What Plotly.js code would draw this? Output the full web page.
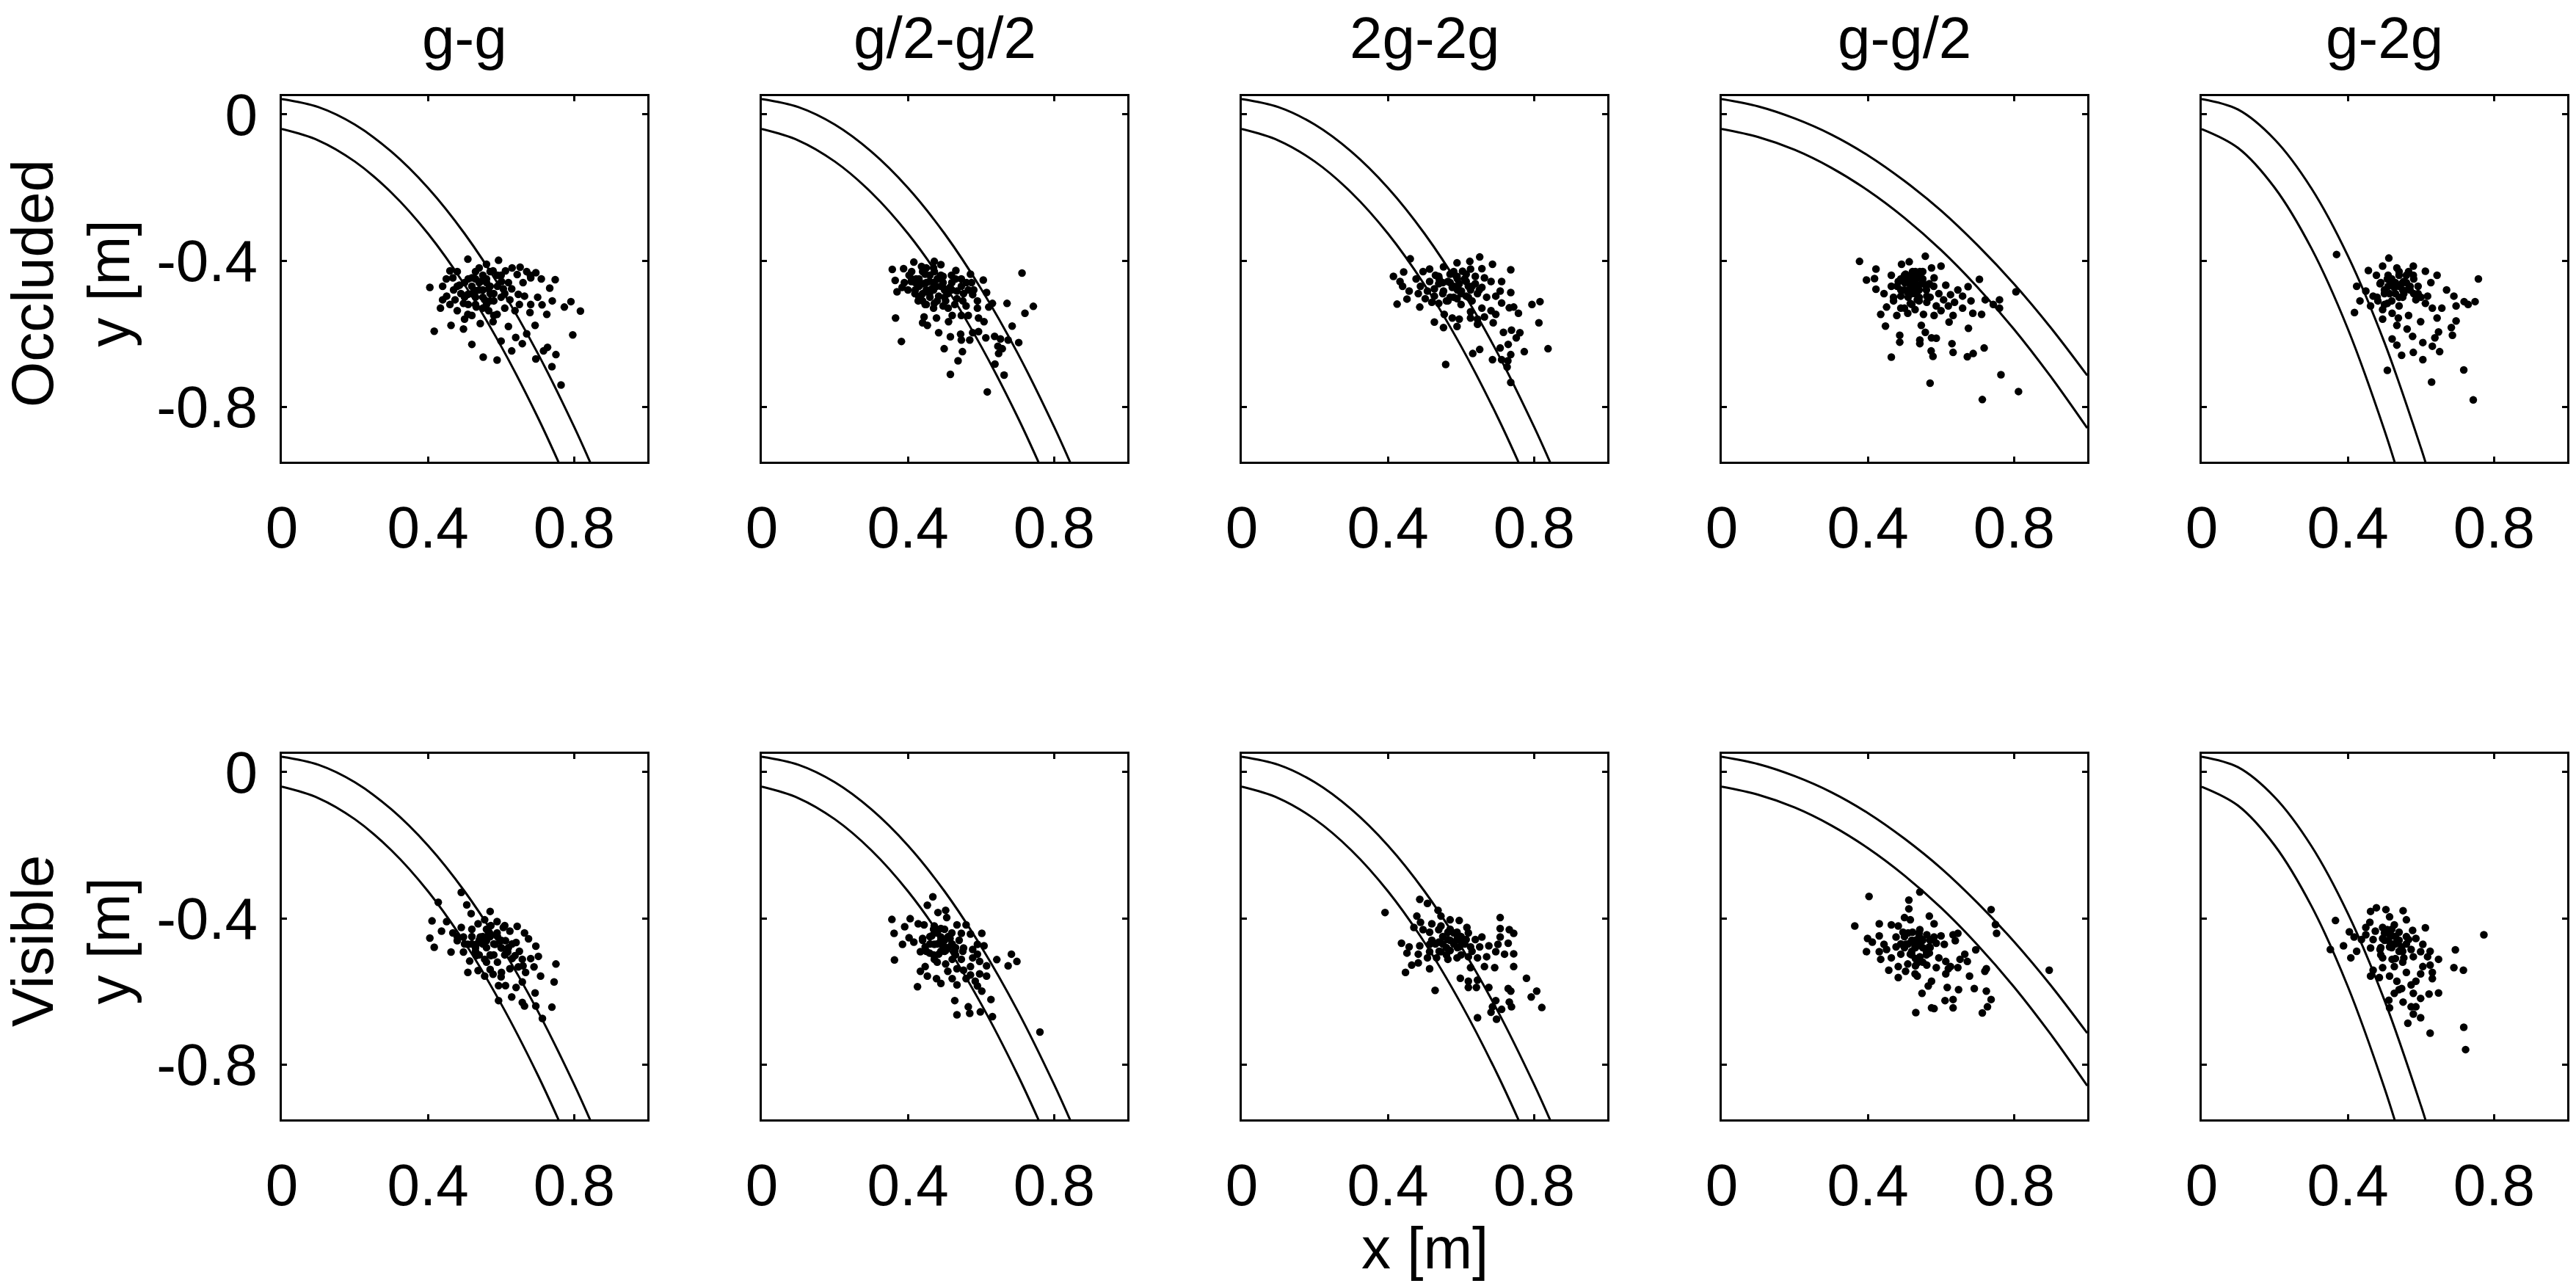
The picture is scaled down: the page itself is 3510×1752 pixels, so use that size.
<!DOCTYPE html>
<html>
<head>
<meta charset="utf-8">
<script src="https://cdn.plot.ly/plotly-3.0.1.min.js"></script>
<style>
html,body{margin:0;padding:0;background:#fff;}
#chart{width:3510px;height:1752px;}
</style>
</head>
<body>
<div id="chart"></div>
<script>
// ---------- labels ----------
const conditions = ["g-g", "g/2-g/2", "2g-2g", "g-g/2", "g-2g"];
const rowLabels = ["Occluded<br>y [m]", "Visible<br>y [m]"];
const xTickVals = [0, 0.4, 0.8];
const xTickText = ["0", "0.4", "0.8"];
const yTickVals = [0, -0.4, -0.8];
const yTickText = ["0", "-0.4", "-0.8"];
const xLabel = "x [m]";

// ---------- boundary curves ----------
const stdUpperX = [0, 0.1, 0.2, 0.3, 0.4, 0.5, 0.6, 0.7, 0.8, 0.85];
const stdUpperY = [0.042, 0.020, -0.028, -0.102, -0.201, -0.326, -0.477, -0.653, -0.855, -0.966];
const stdLowerX = [0, 0.1, 0.2, 0.3, 0.4, 0.5, 0.6, 0.7, 0.77];
const stdLowerY = [-0.040, -0.071, -0.129, -0.214, -0.326, -0.466, -0.634, -0.828, -0.980];
const halfUpperX = [0, 0.1, 0.2, 0.3, 0.4, 0.5, 0.6, 0.7, 0.8, 0.9, 1.0];
const halfUpperY = [0.042, 0.022, -0.011, -0.055, -0.112, -0.182, -0.263, -0.358, -0.464, -0.583, -0.714];
const halfLowerX = [0, 0.1, 0.2, 0.3, 0.4, 0.5, 0.6, 0.7, 0.8, 0.9, 1.0];
const halfLowerY = [-0.040, -0.062, -0.097, -0.146, -0.208, -0.283, -0.371, -0.473, -0.588, -0.717, -0.858];
const dblUpperX = [0, 0.1, 0.2, 0.3, 0.4, 0.5, 0.6, 0.62];
const dblUpperY = [0.042, 0.013, -0.069, -0.202, -0.387, -0.624, -0.913, -0.977];
const dblLowerX = [0, 0.1, 0.2, 0.3, 0.4, 0.5, 0.54];
const dblLowerY = [-0.040, -0.092, -0.201, -0.366, -0.587, -0.864, -0.991];

// ---------- end points: Occluded row ----------
const occ_gg = [[0.509,-0.396],[0.560,-0.410],[0.593,-0.399],[0.460,-0.428],[0.405,-0.473],[0.434,-0.530],[0.417,-0.593],[0.463,-0.577],[0.497,-0.587],[0.520,-0.629],[0.551,-0.664],[0.589,-0.672],[0.629,-0.647],[0.658,-0.627],[0.695,-0.669],[0.716,-0.647],[0.727,-0.637],[0.750,-0.657],[0.739,-0.690],[0.764,-0.740],[0.796,-0.603],[0.817,-0.538],[0.791,-0.512],[0.773,-0.527],[0.733,-0.475],[0.748,-0.452],[0.712,-0.521],[0.681,-0.520],[0.693,-0.577],[0.725,-0.547],[0.679,-0.542],[0.647,-0.492],[0.670,-0.430],[0.695,-0.433],[0.644,-0.438],[0.612,-0.428],[0.606,-0.477],[0.624,-0.507],[0.638,-0.537],[0.589,-0.547],[0.578,-0.567],[0.543,-0.572],[0.532,-0.527],[0.497,-0.517],[0.474,-0.507],[0.451,-0.497],[0.440,-0.507],[0.468,-0.447],[0.486,-0.467],[0.520,-0.447],[0.543,-0.457],[0.566,-0.477],[0.532,-0.482],[0.509,-0.492],[0.555,-0.507],[0.578,-0.428],[0.601,-0.457],[0.664,-0.497],[0.629,-0.477],[0.509,-0.547],[0.480,-0.537],[0.566,-0.537],[0.681,-0.447],[0.652,-0.418],[0.52,-0.47],[0.54,-0.48],[0.56,-0.46],[0.53,-0.50],[0.57,-0.49],[0.55,-0.44],[0.50,-0.46],[0.58,-0.51],[0.49,-0.49],[0.51,-0.52],[0.59,-0.47],[0.56,-0.52],[0.47,-0.48],[0.54,-0.42],[0.60,-0.44],[0.62,-0.46],[0.61,-0.53],[0.65,-0.52],[0.63,-0.42],[0.45,-0.45],[0.48,-0.43],[0.53,-0.45],[0.57,-0.43],[0.55,-0.50],[0.52,-0.55],[0.58,-0.55],[0.60,-0.50],[0.66,-0.46],[0.68,-0.44],[0.71,-0.45],[0.74,-0.51],[0.70,-0.50],[0.62,-0.58],[0.67,-0.60],[0.64,-0.61],[0.60,-0.62],[0.44,-0.47],[0.50,-0.56],[0.46,-0.52],[0.51,-0.45],[0.53,-0.43],[0.55,-0.48],[0.57,-0.47],[0.52,-0.49],[0.54,-0.46],[0.56,-0.45],[0.58,-0.49],[0.50,-0.50],[0.55,-0.53],[0.59,-0.44],[0.53,-0.52],[0.48,-0.47],[0.61,-0.49],[0.57,-0.51]];
const occ_half = [[0.357,-0.424],[0.388,-0.422],[0.416,-0.404],[0.437,-0.416],[0.472,-0.402],[0.490,-0.411],[0.531,-0.427],[0.519,-0.440],[0.571,-0.437],[0.606,-0.453],[0.574,-0.460],[0.365,-0.454],[0.384,-0.473],[0.370,-0.485],[0.409,-0.457],[0.403,-0.440],[0.422,-0.450],[0.440,-0.463],[0.459,-0.457],[0.478,-0.470],[0.496,-0.460],[0.515,-0.473],[0.534,-0.483],[0.552,-0.490],[0.577,-0.493],[0.546,-0.470],[0.509,-0.490],[0.484,-0.497],[0.459,-0.490],[0.434,-0.497],[0.419,-0.490],[0.428,-0.510],[0.447,-0.520],[0.472,-0.517],[0.496,-0.524],[0.528,-0.520],[0.559,-0.524],[0.590,-0.530],[0.615,-0.487],[0.631,-0.517],[0.621,-0.527],[0.671,-0.517],[0.712,-0.434],[0.743,-0.525],[0.720,-0.544],[0.685,-0.579],[0.703,-0.624],[0.674,-0.617],[0.653,-0.614],[0.637,-0.607],[0.613,-0.611],[0.593,-0.594],[0.577,-0.597],[0.569,-0.617],[0.544,-0.601],[0.546,-0.617],[0.516,-0.608],[0.499,-0.641],[0.549,-0.649],[0.537,-0.674],[0.516,-0.711],[0.617,-0.759],[0.638,-0.683],[0.663,-0.713],[0.648,-0.654],[0.646,-0.634],[0.658,-0.641],[0.484,-0.597],[0.453,-0.577],[0.440,-0.570],[0.444,-0.554],[0.478,-0.557],[0.511,-0.567],[0.521,-0.550],[0.546,-0.550],[0.565,-0.550],[0.593,-0.557],[0.608,-0.567],[0.366,-0.557],[0.382,-0.621],[0.590,-0.510],[0.534,-0.504],[0.503,-0.510],[0.465,-0.477],[0.447,-0.437],[0.472,-0.430],[0.496,-0.443],[0.546,-0.450],[0.565,-0.480],[0.45,-0.46],[0.47,-0.48],[0.43,-0.47],[0.46,-0.44],[0.49,-0.47],[0.44,-0.49],[0.48,-0.51],[0.42,-0.46],[0.50,-0.50],[0.45,-0.52],[0.52,-0.46],[0.41,-0.43],[0.47,-0.42],[0.53,-0.45],[0.51,-0.53],[0.44,-0.51],[0.40,-0.48],[0.55,-0.51],[0.56,-0.46],[0.58,-0.48],[0.43,-0.45],[0.45,-0.48],[0.47,-0.46],[0.42,-0.48],[0.44,-0.43],[0.48,-0.45],[0.46,-0.50],[0.41,-0.45],[0.49,-0.44],[0.43,-0.50],[0.50,-0.48],[0.45,-0.42],[0.39,-0.46],[0.47,-0.53],[0.52,-0.48]];
const occ_double = [[0.461,-0.395],[0.443,-0.431],[0.415,-0.443],[0.433,-0.457],[0.440,-0.470],[0.425,-0.519],[0.452,-0.505],[0.458,-0.483],[0.477,-0.450],[0.496,-0.430],[0.514,-0.423],[0.552,-0.417],[0.589,-0.406],[0.624,-0.402],[0.651,-0.390],[0.686,-0.410],[0.736,-0.425],[0.657,-0.422],[0.626,-0.423],[0.604,-0.429],[0.570,-0.437],[0.539,-0.443],[0.514,-0.457],[0.489,-0.470],[0.483,-0.490],[0.502,-0.504],[0.527,-0.497],[0.552,-0.483],[0.576,-0.473],[0.595,-0.463],[0.614,-0.457],[0.639,-0.463],[0.657,-0.473],[0.682,-0.457],[0.711,-0.457],[0.707,-0.483],[0.736,-0.487],[0.695,-0.497],[0.670,-0.500],[0.645,-0.490],[0.614,-0.497],[0.589,-0.504],[0.564,-0.510],[0.539,-0.517],[0.520,-0.514],[0.487,-0.527],[0.554,-0.547],[0.576,-0.557],[0.595,-0.560],[0.626,-0.540],[0.657,-0.530],[0.682,-0.537],[0.711,-0.516],[0.732,-0.529],[0.744,-0.527],[0.757,-0.544],[0.695,-0.547],[0.664,-0.554],[0.645,-0.560],[0.626,-0.557],[0.688,-0.570],[0.645,-0.574],[0.589,-0.580],[0.552,-0.583],[0.527,-0.568],[0.794,-0.520],[0.816,-0.512],[0.813,-0.570],[0.761,-0.597],[0.738,-0.590],[0.716,-0.596],[0.751,-0.611],[0.729,-0.629],[0.707,-0.639],[0.736,-0.657],[0.773,-0.649],[0.838,-0.641],[0.651,-0.643],[0.632,-0.654],[0.686,-0.671],[0.711,-0.671],[0.728,-0.674],[0.726,-0.691],[0.736,-0.733],[0.558,-0.684],[0.589,-0.443],[0.614,-0.437],[0.639,-0.443],[0.539,-0.463],[0.564,-0.457],[0.527,-0.477],[0.508,-0.483],[0.601,-0.483],[0.626,-0.480],[0.664,-0.447],[0.58,-0.47],[0.60,-0.49],[0.55,-0.46],[0.62,-0.47],[0.57,-0.50],[0.53,-0.44],[0.63,-0.51],[0.59,-0.45],[0.57,-0.46],[0.59,-0.48],[0.61,-0.45],[0.55,-0.49],[0.63,-0.47],[0.58,-0.43],[0.60,-0.52],[0.54,-0.45],[0.62,-0.50],[0.56,-0.51],[0.65,-0.48],[0.58,-0.50]];
const occ_g_half = [[0.377,-0.402],[0.422,-0.423],[0.396,-0.453],[0.418,-0.449],[0.464,-0.440],[0.492,-0.410],[0.513,-0.403],[0.557,-0.388],[0.574,-0.420],[0.600,-0.415],[0.581,-0.447],[0.613,-0.467],[0.646,-0.480],[0.659,-0.497],[0.674,-0.471],[0.705,-0.451],[0.682,-0.510],[0.721,-0.507],[0.760,-0.507],[0.743,-0.520],[0.760,-0.530],[0.805,-0.485],[0.422,-0.478],[0.444,-0.490],[0.464,-0.470],[0.483,-0.457],[0.503,-0.437],[0.522,-0.430],[0.535,-0.447],[0.548,-0.463],[0.529,-0.477],[0.509,-0.487],[0.490,-0.497],[0.470,-0.510],[0.451,-0.527],[0.435,-0.547],[0.479,-0.550],[0.509,-0.544],[0.529,-0.534],[0.552,-0.547],[0.581,-0.550],[0.600,-0.537],[0.620,-0.524],[0.637,-0.514],[0.587,-0.524],[0.561,-0.514],[0.535,-0.507],[0.516,-0.517],[0.500,-0.530],[0.561,-0.497],[0.594,-0.490],[0.626,-0.493],[0.659,-0.530],[0.687,-0.544],[0.711,-0.547],[0.633,-0.550],[0.622,-0.568],[0.675,-0.585],[0.546,-0.577],[0.557,-0.596],[0.574,-0.611],[0.587,-0.612],[0.487,-0.604],[0.487,-0.623],[0.542,-0.617],[0.542,-0.627],[0.448,-0.579],[0.464,-0.664],[0.573,-0.647],[0.578,-0.662],[0.630,-0.627],[0.633,-0.651],[0.672,-0.663],[0.688,-0.654],[0.718,-0.639],[0.570,-0.735],[0.713,-0.780],[0.764,-0.712],[0.812,-0.758],[0.522,-0.457],[0.542,-0.430],[0.568,-0.463],[0.607,-0.507],[0.52,-0.45],[0.53,-0.47],[0.51,-0.46],[0.54,-0.44],[0.50,-0.48],[0.55,-0.46],[0.52,-0.49],[0.49,-0.45],[0.53,-0.43],[0.51,-0.50],[0.56,-0.48],[0.48,-0.47],[0.54,-0.51],[0.50,-0.44],[0.55,-0.43],[0.47,-0.50],[0.57,-0.50],[0.52,-0.52],[0.49,-0.53],[0.58,-0.47],[0.51,-0.45],[0.53,-0.46],[0.52,-0.47],[0.54,-0.48],[0.50,-0.46],[0.55,-0.45],[0.53,-0.49],[0.51,-0.48],[0.49,-0.48],[0.56,-0.47],[0.52,-0.44],[0.54,-0.50]];
const occ_g_double = [[0.369,-0.383],[0.512,-0.393],[0.495,-0.415],[0.456,-0.427],[0.478,-0.440],[0.424,-0.470],[0.433,-0.510],[0.418,-0.542],[0.449,-0.483],[0.469,-0.497],[0.488,-0.463],[0.508,-0.450],[0.534,-0.420],[0.579,-0.415],[0.612,-0.429],[0.644,-0.440],[0.627,-0.460],[0.579,-0.440],[0.553,-0.457],[0.527,-0.473],[0.566,-0.477],[0.592,-0.490],[0.618,-0.497],[0.670,-0.480],[0.690,-0.497],[0.718,-0.512],[0.748,-0.512],[0.757,-0.450],[0.729,-0.520],[0.696,-0.524],[0.657,-0.530],[0.631,-0.530],[0.612,-0.517],[0.586,-0.507],[0.540,-0.524],[0.508,-0.517],[0.482,-0.510],[0.462,-0.524],[0.495,-0.534],[0.521,-0.544],[0.538,-0.557],[0.566,-0.550],[0.599,-0.567],[0.644,-0.557],[0.696,-0.565],[0.683,-0.583],[0.648,-0.595],[0.686,-0.604],[0.638,-0.611],[0.605,-0.624],[0.577,-0.607],[0.562,-0.587],[0.534,-0.577],[0.521,-0.614],[0.534,-0.631],[0.547,-0.659],[0.579,-0.651],[0.605,-0.671],[0.631,-0.634],[0.651,-0.649],[0.495,-0.560],[0.508,-0.700],[0.629,-0.732],[0.717,-0.699],[0.743,-0.781],[0.553,-0.490],[0.514,-0.490],[0.592,-0.470],[0.540,-0.440],[0.566,-0.430],[0.52,-0.46],[0.54,-0.47],[0.50,-0.48],[0.53,-0.49],[0.56,-0.46],[0.51,-0.44],[0.55,-0.50],[0.49,-0.46],[0.57,-0.48],[0.52,-0.51],[0.48,-0.50],[0.58,-0.45],[0.54,-0.43],[0.50,-0.52],[0.60,-0.50],[0.53,-0.46],[0.55,-0.48],[0.51,-0.47],[0.57,-0.47],[0.54,-0.50],[0.52,-0.45],[0.56,-0.44],[0.50,-0.49],[0.58,-0.49],[0.55,-0.46]];

// ---------- end points: Visible row ----------
const vis_gg = [[0.491,-0.329],[0.428,-0.356],[0.506,-0.363],[0.518,-0.387],[0.570,-0.381],[0.411,-0.407],[0.451,-0.409],[0.437,-0.435],[0.405,-0.454],[0.417,-0.479],[0.463,-0.492],[0.468,-0.440],[0.480,-0.461],[0.497,-0.451],[0.509,-0.471],[0.520,-0.430],[0.537,-0.415],[0.555,-0.404],[0.572,-0.420],[0.589,-0.409],[0.606,-0.425],[0.624,-0.435],[0.644,-0.422],[0.664,-0.440],[0.675,-0.456],[0.695,-0.476],[0.702,-0.504],[0.681,-0.510],[0.658,-0.512],[0.638,-0.502],[0.618,-0.492],[0.601,-0.481],[0.583,-0.471],[0.560,-0.461],[0.543,-0.451],[0.532,-0.502],[0.514,-0.517],[0.509,-0.548],[0.537,-0.543],[0.555,-0.558],[0.578,-0.553],[0.601,-0.548],[0.624,-0.538],[0.647,-0.533],[0.667,-0.548],[0.690,-0.533],[0.708,-0.558],[0.750,-0.525],[0.745,-0.574],[0.658,-0.574],[0.641,-0.589],[0.612,-0.584],[0.593,-0.584],[0.629,-0.615],[0.658,-0.630],[0.664,-0.640],[0.693,-0.604],[0.695,-0.640],[0.593,-0.625],[0.739,-0.643],[0.713,-0.674],[0.572,-0.502],[0.555,-0.512],[0.497,-0.492],[0.612,-0.461],[0.641,-0.466],[0.589,-0.440],[0.566,-0.440],[0.532,-0.471],[0.491,-0.425],[0.55,-0.47],[0.57,-0.45],[0.53,-0.48],[0.58,-0.50],[0.60,-0.46],[0.56,-0.43],[0.52,-0.45],[0.62,-0.48],[0.59,-0.52],[0.54,-0.50],[0.50,-0.47],[0.61,-0.42],[0.57,-0.54],[0.63,-0.51],[0.65,-0.49],[0.48,-0.45],[0.60,-0.56],[0.66,-0.53],[0.54,-0.46],[0.56,-0.48],[0.58,-0.47],[0.55,-0.45],[0.57,-0.50],[0.59,-0.45],[0.53,-0.49],[0.61,-0.50],[0.52,-0.47],[0.60,-0.48],[0.56,-0.52],[0.63,-0.47]];
const vis_half = [[0.468,-0.341],[0.453,-0.364],[0.482,-0.384],[0.503,-0.378],[0.506,-0.398],[0.356,-0.403],[0.406,-0.401],[0.391,-0.423],[0.428,-0.415],[0.444,-0.418],[0.472,-0.421],[0.490,-0.428],[0.534,-0.418],[0.559,-0.418],[0.546,-0.441],[0.571,-0.443],[0.602,-0.441],[0.362,-0.441],[0.403,-0.453],[0.385,-0.471],[0.416,-0.465],[0.440,-0.455],[0.465,-0.448],[0.490,-0.451],[0.515,-0.455],[0.521,-0.471],[0.496,-0.478],[0.472,-0.471],[0.447,-0.478],[0.434,-0.491],[0.459,-0.495],[0.484,-0.498],[0.503,-0.488],[0.528,-0.488],[0.552,-0.481],[0.577,-0.485],[0.590,-0.471],[0.608,-0.475],[0.590,-0.498],[0.577,-0.508],[0.596,-0.518],[0.615,-0.530],[0.643,-0.513],[0.674,-0.530],[0.683,-0.498],[0.698,-0.518],[0.363,-0.514],[0.472,-0.512],[0.447,-0.532],[0.434,-0.545],[0.453,-0.558],[0.478,-0.565],[0.490,-0.578],[0.509,-0.545],[0.534,-0.538],[0.552,-0.542],[0.571,-0.555],[0.596,-0.552],[0.615,-0.558],[0.584,-0.572],[0.559,-0.565],[0.534,-0.582],[0.590,-0.585],[0.602,-0.599],[0.627,-0.622],[0.528,-0.625],[0.565,-0.642],[0.534,-0.664],[0.569,-0.660],[0.598,-0.656],[0.631,-0.669],[0.761,-0.711],[0.426,-0.587],[0.521,-0.512],[0.546,-0.512],[0.503,-0.525],[0.521,-0.565],[0.571,-0.532],[0.48,-0.44],[0.50,-0.46],[0.46,-0.47],[0.52,-0.44],[0.49,-0.49],[0.47,-0.43],[0.51,-0.48],[0.54,-0.46],[0.44,-0.46],[0.53,-0.50],[0.48,-0.47],[0.50,-0.49],[0.46,-0.45],[0.49,-0.46],[0.52,-0.47],[0.47,-0.50],[0.51,-0.45],[0.45,-0.49],[0.53,-0.48],[0.48,-0.52],[0.50,-0.43],[0.55,-0.49]];
const vis_double = [[0.392,-0.384],[0.487,-0.348],[0.508,-0.359],[0.537,-0.378],[0.545,-0.394],[0.479,-0.394],[0.489,-0.411],[0.520,-0.415],[0.545,-0.421],[0.570,-0.404],[0.595,-0.406],[0.616,-0.425],[0.589,-0.438],[0.564,-0.438],[0.539,-0.431],[0.514,-0.438],[0.496,-0.431],[0.471,-0.425],[0.707,-0.398],[0.707,-0.428],[0.732,-0.431],[0.744,-0.441],[0.707,-0.451],[0.657,-0.451],[0.639,-0.458],[0.614,-0.458],[0.589,-0.458],[0.564,-0.458],[0.539,-0.465],[0.514,-0.471],[0.487,-0.475],[0.437,-0.468],[0.458,-0.478],[0.452,-0.495],[0.483,-0.498],[0.514,-0.491],[0.545,-0.491],[0.570,-0.488],[0.595,-0.478],[0.626,-0.478],[0.651,-0.478],[0.676,-0.475],[0.701,-0.471],[0.729,-0.468],[0.719,-0.498],[0.744,-0.497],[0.695,-0.491],[0.670,-0.505],[0.645,-0.508],[0.620,-0.505],[0.589,-0.508],[0.564,-0.512],[0.533,-0.508],[0.508,-0.508],[0.483,-0.522],[0.465,-0.528],[0.448,-0.548],[0.514,-0.538],[0.626,-0.535],[0.664,-0.532],[0.692,-0.535],[0.744,-0.532],[0.598,-0.564],[0.620,-0.572],[0.645,-0.569],[0.620,-0.589],[0.642,-0.589],[0.676,-0.589],[0.729,-0.592],[0.736,-0.599],[0.779,-0.564],[0.807,-0.599],[0.792,-0.615],[0.821,-0.644],[0.695,-0.625],[0.732,-0.629],[0.738,-0.642],[0.686,-0.642],[0.682,-0.657],[0.711,-0.649],[0.645,-0.672],[0.697,-0.676],[0.529,-0.597],[0.58,-0.47],[0.60,-0.45],[0.56,-0.48],[0.62,-0.44],[0.55,-0.45],[0.60,-0.50],[0.53,-0.47],[0.57,-0.43],[0.55,-0.47],[0.57,-0.46],[0.59,-0.48],[0.56,-0.50],[0.58,-0.44],[0.61,-0.47],[0.54,-0.49],[0.60,-0.46],[0.52,-0.46],[0.63,-0.49]];
const vis_g_half = [[0.403,-0.340],[0.512,-0.350],[0.512,-0.374],[0.542,-0.328],[0.364,-0.421],[0.431,-0.415],[0.464,-0.418],[0.483,-0.421],[0.500,-0.398],[0.516,-0.404],[0.568,-0.394],[0.581,-0.415],[0.399,-0.455],[0.412,-0.465],[0.431,-0.448],[0.444,-0.471],[0.477,-0.451],[0.496,-0.438],[0.522,-0.438],[0.542,-0.431],[0.561,-0.445],[0.581,-0.451],[0.600,-0.448],[0.633,-0.445],[0.646,-0.441],[0.639,-0.461],[0.609,-0.471],[0.587,-0.468],[0.568,-0.478],[0.542,-0.471],[0.522,-0.465],[0.503,-0.471],[0.477,-0.478],[0.451,-0.485],[0.431,-0.491],[0.396,-0.491],[0.435,-0.512],[0.464,-0.508],[0.490,-0.498],[0.516,-0.498],[0.542,-0.505],[0.568,-0.495],[0.594,-0.508],[0.613,-0.518],[0.626,-0.532],[0.652,-0.512],[0.665,-0.498],[0.695,-0.486],[0.672,-0.518],[0.646,-0.535],[0.620,-0.538],[0.587,-0.535],[0.561,-0.528],[0.535,-0.522],[0.509,-0.525],[0.483,-0.532],[0.457,-0.542],[0.483,-0.562],[0.503,-0.545],[0.529,-0.552],[0.535,-0.558],[0.613,-0.552],[0.678,-0.558],[0.720,-0.545],[0.724,-0.538],[0.574,-0.572],[0.565,-0.585],[0.548,-0.605],[0.617,-0.589],[0.648,-0.595],[0.691,-0.592],[0.724,-0.599],[0.737,-0.622],[0.611,-0.625],[0.633,-0.622],[0.633,-0.645],[0.581,-0.647],[0.574,-0.645],[0.531,-0.658],[0.727,-0.642],[0.713,-0.659],[0.737,-0.376],[0.749,-0.417],[0.752,-0.441],[0.896,-0.542],[0.548,-0.458],[0.529,-0.478],[0.574,-0.458],[0.53,-0.46],[0.55,-0.48],[0.51,-0.47],[0.54,-0.44],[0.56,-0.50],[0.52,-0.49],[0.57,-0.46],[0.50,-0.45],[0.55,-0.52],[0.53,-0.51],[0.52,-0.46],[0.53,-0.48],[0.54,-0.47],[0.55,-0.46],[0.52,-0.50],[0.51,-0.44],[0.56,-0.49],[0.50,-0.48],[0.54,-0.45],[0.53,-0.53],[0.57,-0.48],[0.49,-0.47]];
const vis_g_double = [[0.366,-0.406],[0.352,-0.485],[0.388,-0.475],[0.408,-0.508],[0.424,-0.490],[0.404,-0.437],[0.417,-0.451],[0.437,-0.458],[0.449,-0.425],[0.460,-0.411],[0.462,-0.381],[0.478,-0.371],[0.504,-0.376],[0.551,-0.379],[0.514,-0.396],[0.560,-0.404],[0.527,-0.418],[0.495,-0.425],[0.475,-0.435],[0.449,-0.445],[0.469,-0.458],[0.495,-0.455],[0.521,-0.448],[0.540,-0.438],[0.577,-0.433],[0.612,-0.426],[0.586,-0.455],[0.605,-0.471],[0.625,-0.490],[0.599,-0.491],[0.573,-0.485],[0.547,-0.478],[0.514,-0.478],[0.488,-0.485],[0.462,-0.481],[0.495,-0.508],[0.521,-0.512],[0.553,-0.508],[0.579,-0.505],[0.618,-0.505],[0.648,-0.512],[0.625,-0.528],[0.631,-0.548],[0.631,-0.565],[0.599,-0.552],[0.586,-0.572],[0.560,-0.548],[0.534,-0.572],[0.514,-0.558],[0.486,-0.562],[0.462,-0.558],[0.469,-0.542],[0.495,-0.535],[0.527,-0.532],[0.605,-0.532],[0.690,-0.535],[0.716,-0.542],[0.694,-0.486],[0.772,-0.445],[0.573,-0.582],[0.540,-0.595],[0.527,-0.605],[0.579,-0.605],[0.599,-0.619],[0.622,-0.607],[0.648,-0.604],[0.512,-0.624],[0.514,-0.645],[0.551,-0.629],[0.573,-0.642],[0.586,-0.642],[0.579,-0.662],[0.599,-0.672],[0.564,-0.687],[0.625,-0.714],[0.717,-0.698],[0.722,-0.759],[0.547,-0.592],[0.508,-0.431],[0.534,-0.465],[0.566,-0.458],[0.50,-0.46],[0.52,-0.47],[0.54,-0.49],[0.51,-0.44],[0.56,-0.47],[0.53,-0.45],[0.49,-0.50],[0.55,-0.52],[0.51,-0.46],[0.52,-0.48],[0.53,-0.47],[0.50,-0.44],[0.54,-0.46],[0.55,-0.49],[0.52,-0.43],[0.49,-0.48],[0.56,-0.45],[0.53,-0.51]];

// ---------- assemble ----------
const pointSets = [
  [occ_gg, occ_half, occ_double, occ_g_half, occ_g_double],
  [vis_gg, vis_half, vis_double, vis_g_half, vis_g_double]
];
const curveSets = [
  [[stdUpperX, stdUpperY], [stdLowerX, stdLowerY]],
  [[stdUpperX, stdUpperY], [stdLowerX, stdLowerY]],
  [[stdUpperX, stdUpperY], [stdLowerX, stdLowerY]],
  [[halfUpperX, halfUpperY], [halfLowerX, halfLowerY]],
  [[dblUpperX, dblUpperY], [dblLowerX, dblLowerY]]
];

const W = 3510, H = 1752;
const colLeft = [384, 1038, 1692, 2346, 3000];
const boxW = 498;
const rowTop = [131, 1027];
const FONT = "Liberation Sans, Arial, sans-serif";

const traces = [];
const layout = {
  width: W, height: H,
  margin: {l: 0, r: 0, t: 0, b: 0},
  paper_bgcolor: "#fff", plot_bgcolor: "#fff",
  showlegend: false,
  font: {family: FONT, size: 80, color: "#000"},
  annotations: []
};

for (let r = 0; r < 2; r++) {
  for (let c = 0; c < 5; c++) {
    const i = r * 5 + c + 1;
    const xa = "x" + (i === 1 ? "" : i);
    const ya = "y" + (i === 1 ? "" : i);
    const curves = curveSets[c];
    curves.forEach(cv => {
      traces.push({
        type: "scatter", mode: "lines", x: cv[0], y: cv[1],
        xaxis: xa, yaxis: ya,
        line: {color: "#000", width: 3, shape: "spline", smoothing: 1},
        hoverinfo: "skip"
      });
    });
    const pts = pointSets[r][c];
    traces.push({
      type: "scatter", mode: "markers",
      x: pts.map(p => p[0]), y: pts.map(p => p[1]),
      xaxis: xa, yaxis: ya,
      marker: {color: "#000", size: 10.5, line: {width: 0}},
      cliponaxis: true,
      hoverinfo: "skip"
    });
    const axCommon = {
      showline: true, linewidth: 3, linecolor: "#000", mirror: "ticks",
      ticks: "inside", ticklen: 7, tickwidth: 3, tickcolor: "#000",
      showgrid: false, zeroline: false, fixedrange: true,
      tickfont: {family: FONT, size: 80, color: "#000"}
    };
    layout["xaxis" + (i === 1 ? "" : i)] = Object.assign({}, axCommon, {
      domain: [colLeft[c] / W, (colLeft[c] + boxW) / W],
      range: [0, 1], anchor: ya,
      tickmode: "array", tickvals: xTickVals, ticktext: xTickText,
      ticklabelstandoff: 18
    });
    layout["yaxis" + (i === 1 ? "" : i)] = Object.assign({}, axCommon, {
      domain: [1 - (rowTop[r] + boxW) / H, 1 - rowTop[r] / H],
      range: [-0.95, 0.05], anchor: xa,
      tickmode: "array", tickvals: yTickVals, ticktext: yTickText,
      showticklabels: c === 0,
      ticklabelstandoff: 14
    });
  }
}

// column titles
conditions.forEach((t, c) => {
  layout.annotations.push({
    text: t, xref: "paper", yref: "paper",
    x: (colLeft[c] + boxW / 2) / W, y: 1 - 52 / H,
    xanchor: "center", yanchor: "middle", showarrow: false,
    font: {family: FONT, size: 80, color: "#000"}
  });
});
// row labels
const rowCenter = [386, 1282];
rowLabels.forEach((t, r) => {
  layout.annotations.push({
    text: t, xref: "paper", yref: "paper",
    x: 96 / W, y: 1 - rowCenter[r] / H,
    xanchor: "center", yanchor: "middle", showarrow: false,
    textangle: -90,
    font: {family: FONT, size: 80, color: "#000"}
  });
});
// x label
layout.annotations.push({
  text: xLabel, xref: "paper", yref: "paper",
  x: (colLeft[2] + boxW / 2) / W, y: 1 - 1700 / H,
  xanchor: "center", yanchor: "middle", showarrow: false,
  font: {family: FONT, size: 80, color: "#000"}
});

Plotly.newPlot("chart", traces, layout, {staticPlot: true, displayModeBar: false});
</script>
</body>
</html>
